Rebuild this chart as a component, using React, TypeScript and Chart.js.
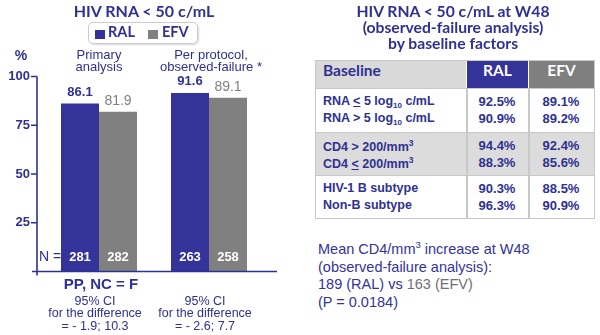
import React, { useEffect, useRef } from 'react';
import { Chart, registerables } from 'chart.js';

Chart.register(...registerables);

// ---------- data ----------
const categoryLines = [['Primary', 'analysis'], ['Per protocol,', 'observed-failure *']];
const seriesNames = ['RAL', 'EFV'];
const ralValues = [86.1, 91.6];
const efvValues = [81.9, 89.1];
const ralN = [281, 263];
const efvN = [282, 258];
const yTicks = [25, 50, 75, 100];
const ciLines = [
  ['95% CI', 'for the difference', '= - 1.9; 10.3'],
  ['95% CI', 'for the difference', '= - 2.6; 7.7'],
];
const primaryNote = 'PP, NC = F';
const leftTitle = 'HIV RNA < 50 c/mL';
const rightTitle = ['HIV RNA < 50 c/mL at W48', '(observed-failure analysis)', 'by baseline factors'];
const tableHeader = ['Baseline', 'RAL', 'EFV'];
const factorGroups = [
  ['RNA ≤ 5 log10 c/mL', 'RNA > 5 log10 c/mL'],
  ['CD4 > 200/mm3', 'CD4 ≤ 200/mm3'],
  ['HIV-1 B subtype', 'Non-B subtype'],
];
const factorRal = [['92.5%', '90.9%'], ['94.4%', '88.3%'], ['90.3%', '96.3%']];
const factorEfv = [['89.1%', '89.2%'], ['92.4%', '85.6%'], ['88.5%', '90.9%']];
const cd4Ral = 189;
const cd4Efv = 163;
const pValue = '0.0184';

// ---------- styles ----------
const NAVY = '#2E3192';
const BLUE = '#333399';
const GRAY = '#808080';
const SANS = '"Liberation Sans", Arial, sans-serif';
const TITLE = 'Lato, "Open Sans", sans-serif';

const overlay = {
  id: 'overlay',
  afterDatasetsDraw(chart: any) {
    const { ctx, chartArea, scales } = chart;
    const y = scales.y;
    const y0 = y.getPixelForValue(0);
    const axisX = chartArea.left - 7;
    ctx.save();
    ctx.strokeStyle = NAVY;
    ctx.lineWidth = 1.6;
    ctx.beginPath();
    ctx.moveTo(axisX, y.getPixelForValue(100));
    ctx.lineTo(axisX, y0 + 4);
    for (const t of yTicks) {
      const py = y.getPixelForValue(t);
      ctx.moveTo(axisX - 6, py);
      ctx.lineTo(axisX, py);
    }
    ctx.moveTo(axisX - 5, y0);
    ctx.lineTo(chartArea.right + 13, y0);
    ctx.stroke();

    // % label
    ctx.fillStyle = NAVY;
    ctx.font = `bold 14px ${SANS}`;
    ctx.textAlign = 'center';
    ctx.textBaseline = 'middle';
    ctx.fillText('%', axisX - 16, chartArea.top - 20);

    const metaR = chart.getDatasetMeta(0);
    const metaE = chart.getDatasetMeta(1);
    for (let i = 0; i < ralValues.length; i++) {
      const br = metaR.data[i];
      const be = metaE.data[i];
      // values above bars
      ctx.font = `bold 13px ${SANS}`;
      ctx.fillStyle = NAVY;
      ctx.fillText(ralValues[i].toFixed(1), br.x, br.y - 11);
      ctx.font = `14px ${SANS}`;
      ctx.fillStyle = GRAY;
      ctx.fillText(efvValues[i].toFixed(1), be.x, be.y - 11);
      // N inside bars
      ctx.font = `bold 13px ${SANS}`;
      ctx.fillStyle = '#ffffff';
      ctx.fillText(String(ralN[i]), br.x, y0 - 14);
      ctx.fillText(String(efvN[i]), be.x, y0 - 14);
      // category labels
      const cx = chart.scales.x.getPixelForValue(i);
      ctx.font = `13px ${SANS}`;
      ctx.fillStyle = NAVY;
      categoryLines[i].forEach((l, k) => ctx.fillText(l, cx + i * 2, chartArea.top - 21 + k * 12));
      // CI text
      ctx.font = `12.5px ${SANS}`;
      ciLines[i].forEach((l, k) => ctx.fillText(l, cx - 4, y0 + 30 + k * 12.5));
    }
    // N =
    ctx.font = `14px ${SANS}`;
    ctx.fillStyle = NAVY;
    ctx.textAlign = 'left';
    ctx.fillText('N =', axisX + 2, y0 - 14);
    // PP, NC = F
    ctx.textAlign = 'center';
    ctx.font = `bold 15px ${SANS}`;
    ctx.fillText(primaryNote, chart.scales.x.getPixelForValue(0) + 2, y0 + 13.5);
    ctx.restore();
  },
};

function BarChart() {
  const ref = useRef<HTMLCanvasElement>(null);
  useEffect(() => {
    const chart = new Chart(ref.current as HTMLCanvasElement, {
      type: 'bar',
      data: {
        labels: categoryLines.map((l) => l.join(' ')),
        datasets: [
          { label: seriesNames[0], data: ralValues, backgroundColor: BLUE, categoryPercentage: 0.691, barPercentage: 1 },
          { label: seriesNames[1], data: efvValues, backgroundColor: GRAY, categoryPercentage: 0.691, barPercentage: 1 },
        ],
      },
      options: {
        responsive: false,
        animation: false,
        events: [],
        layout: { padding: { top: 76.5, bottom: 63.5, left: 0, right: 36 } },
        plugins: { legend: { display: false }, title: { display: false }, tooltip: { enabled: false } },
        scales: {
          x: { display: false, offset: true },
          y: {
            min: 0,
            max: 100,
            afterFit: (s: any) => {
              s.width = 44;
            },
            grid: { display: false, drawTicks: false },
            border: { display: false },
            ticks: {
              stepSize: 25,
              padding: 14,
              color: NAVY,
              font: { family: SANS, size: 13, weight: 'bold' },
              callback: (v: any) => (v === 0 ? '' : String(v)),
            },
          },
        },
      },
      plugins: [overlay],
    } as any);
    return () => chart.destroy();
  }, []);
  return <canvas ref={ref} width={300} height={335} style={{ position: 'absolute', left: 0, top: 0, display: 'block' }} />;
}

function richLabel(s: string) {
  const out: any[] = [];
  const re = /(≤|log10|mm3)/g;
  let last = 0;
  let m: RegExpExecArray | null;
  let k = 0;
  while ((m = re.exec(s))) {
    if (m.index > last) out.push(s.slice(last, m.index));
    if (m[0] === '≤') out.push(<span key={k++} style={{ textDecoration: 'underline' }}>&lt;</span>);
    else if (m[0] === 'log10') out.push(<span key={k++}>log<sub style={{ fontSize: '8px', verticalAlign: '-3px' }}>10</sub></span>);
    else out.push(<span key={k++}>mm<sup style={{ fontSize: '8.5px', verticalAlign: '5px' }}>3</sup></span>);
    last = m.index + m[0].length;
  }
  if (last < s.length) out.push(s.slice(last));
  return out;
}

const abs = (o: any) => ({ position: 'absolute', ...o }) as any;

export default function App() {
  const tableLeft = 316;
  const tableTop = 61;
  const col1 = 150;
  const col2 = 62;
  const col3 = 66;
  const headH = 27;
  const groupH = [44, 43, 43];
  const border = '#C8C8C8';
  let gy = tableTop + headH;
  return (
    <div style={abs({ left: 0, top: 0, width: 600, height: 335, background: '#fff', overflow: 'hidden', fontFamily: SANS })}>
      <BarChart />
      {/* left title */}
      <div style={abs({ left: 0, top: 2, width: 288, textAlign: 'center', font: `bold 16px ${TITLE}`, lineHeight: '18px', color: NAVY })}>
        {leftTitle}
      </div>
      {/* legend */}
      <div
        style={abs({
          left: 88,
          top: 22,
          width: 110,
          height: 22,
          boxSizing: 'border-box',
          border: '1px solid #CCCCCC',
          borderRadius: 5,
          boxShadow: '1px 1px 2px rgba(0,0,0,0.15)',
        })}
      >
        <div style={abs({ left: 6, top: 6.5, width: 10, height: 9, background: BLUE })} />
        <div style={abs({ left: 19, top: 0, lineHeight: '20px', font: `bold 14.5px ${TITLE}`, color: NAVY })}>{seriesNames[0]}</div>
        <div style={abs({ left: 59, top: 6.5, width: 10, height: 9, background: GRAY })} />
        <div style={abs({ left: 73, top: 0, lineHeight: '20px', font: `bold 14.5px ${TITLE}`, color: NAVY })}>{seriesNames[1]}</div>
      </div>

      {/* right title */}
      <div style={abs({ left: 300, top: 3, width: 306, textAlign: 'center', font: `bold 15.7px ${TITLE}`, lineHeight: '16px', color: NAVY })}>
        {rightTitle.map((l, i) => (
          <div key={i}>{l}</div>
        ))}
      </div>

      {/* table */}
      <div style={abs({ left: tableLeft, top: tableTop, width: col1, height: headH, background: '#D9D9D9' })}>
        <div style={abs({ left: 7, top: 0, lineHeight: `${headH}px`, font: `bold 15.5px ${TITLE}`, color: NAVY })}>{tableHeader[0]}</div>
      </div>
      <div style={abs({ left: tableLeft + col1 + 1, top: tableTop, width: col2 - 1, height: headH, background: BLUE, color: '#fff', textAlign: 'center', lineHeight: `${headH}px`, font: `bold 15.5px ${TITLE}` })}>
        {tableHeader[1]}
      </div>
      <div style={abs({ left: tableLeft + col1 + col2 + 1, top: tableTop, width: col3 - 1, height: headH, background: '#7F7F7F', color: '#fff', textAlign: 'center', lineHeight: `${headH}px`, font: `bold 15.5px ${TITLE}` })}>
        {tableHeader[2]}
      </div>
      {factorGroups.map((rows, g) => {
        const top = gy;
        gy += groupH[g];
        return (
          <div key={g} style={abs({ left: tableLeft, top, width: col1 + col2 + col3, height: groupH[g], background: g === 1 ? '#DCDCDC' : '#fff', borderTop: `1.5px solid ${border}`, boxSizing: 'border-box' })}>
            {rows.map((r, k) => (
              <React.Fragment key={k}>
                <div style={abs({ left: 7, top: 5 + k * 17, height: 17, lineHeight: '17px', font: `bold 12.5px ${SANS}`, color: NAVY, whiteSpace: 'nowrap' })}>{richLabel(r)}</div>
                <div style={abs({ left: col1, top: 5 + k * 17, width: col2, lineHeight: '17px', textAlign: 'center', font: `bold 13px ${SANS}`, color: NAVY })}>{factorRal[g][k]}</div>
                <div style={abs({ left: col1 + col2, top: 5 + k * 17, width: col3, lineHeight: '17px', textAlign: 'center', font: `bold 13px ${SANS}`, color: NAVY })}>{factorEfv[g][k]}</div>
              </React.Fragment>
            ))}
          </div>
        );
      })}
      {/* table borders */}
      <div style={abs({ left: tableLeft - 1, top: tableTop - 1, width: col1 + col2 + col3 + 2, height: headH + groupH[0] + groupH[1] + groupH[2] + 2, border: `1.5px solid ${border}`, boxSizing: 'border-box' })} />
      <div style={abs({ left: tableLeft + col1, top: tableTop + headH, width: 1.5, height: groupH[0] + groupH[1] + groupH[2], background: border })} />
      <div style={abs({ left: tableLeft + col1 + col2, top: tableTop + headH, width: 1.5, height: groupH[0] + groupH[1] + groupH[2], background: border })} />

      {/* bottom note */}
      <div style={abs({ left: 318, top: 236, font: `14.5px ${SANS}`, lineHeight: '17.5px', color: BLUE, whiteSpace: 'nowrap' })}>
        <div>
          Mean CD4/mm<sup style={{ fontSize: '9.5px', verticalAlign: '6px' }}>3</sup> increase at W48
        </div>
        <div>(observed-failure analysis):</div>
        <div>
          <span style={{ color: BLUE }}>{cd4Ral} (RAL)</span> <span style={{ color: NAVY }}>vs</span>{' '}
          <span style={{ color: '#707070' }}>{cd4Efv} (EFV)</span>
        </div>
        <div>(P = {pValue})</div>
      </div>
    </div>
  );
}
